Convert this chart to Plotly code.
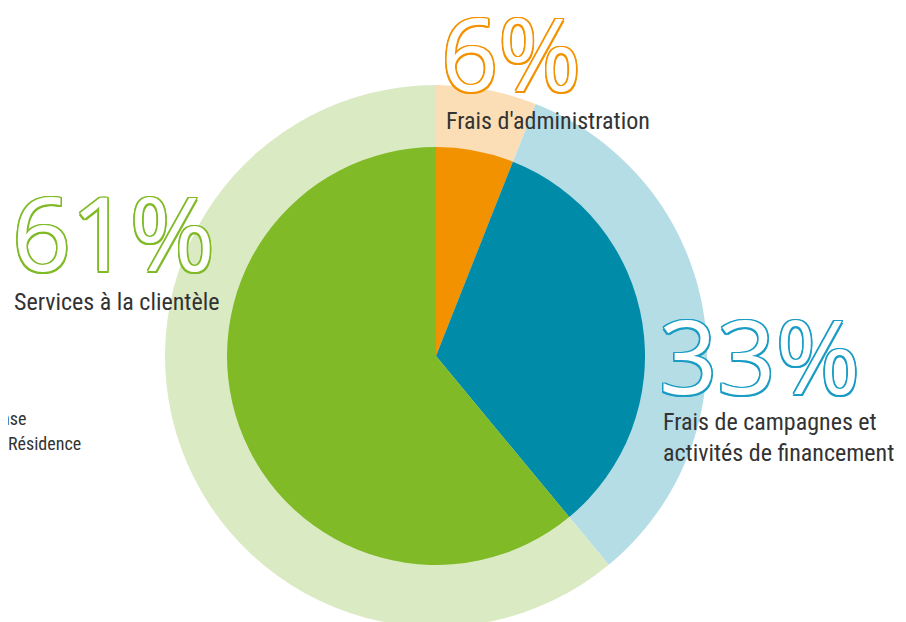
import plotly.graph_objects as go

labels = ["Frais d'administration", "Frais de campagnes et activités de financement", "Services à la clientèle"]
values = [6, 33, 61]
pct_labels = ["6%", "33%", "61%"]
inner_colors = ["#F39200", "#008BA9", "#80BA27"]
outer_colors = ["#FBDEB6", "#B4DDE5", "#DAEAC3"]
pct_colors = ["#F39200", "#1A9CC4", "#80BA27"]

W, H = 906, 622
OFF = 8  # page body margin
cx, cy = 436 - OFF, 356 - OFF
r_out, r_in = 271, 209

def dom(r):
    yb = H - cy
    return dict(x=[(cx - r) / W, (cx + r) / W], y=[(yb - r) / H, (yb + r) / H])

fig = go.Figure()
fig.add_trace(go.Pie(labels=labels, values=values, sort=False, direction="clockwise",
                     rotation=0, marker=dict(colors=outer_colors), textinfo="none",
                     domain=dom(r_out), showlegend=False, hoverinfo="skip"))
fig.add_trace(go.Pie(labels=labels, values=values, sort=False, direction="clockwise",
                     rotation=0, marker=dict(colors=inner_colors), textinfo="none",
                     domain=dom(r_in), showlegend=False, hoverinfo="label+percent"))

def outline(c, w=1.5):
    offs = [(w, 0), (-w, 0), (0, w), (0, -w), (w, w), (-w, -w), (w, -w), (-w, w)]
    return ", ".join(f"{a}px {b}px 0 {c}" for a, b in offs)

big_font = "Open Sans, Noto Sans, sans-serif"
lab_font = "Noto Sans Condensed, Roboto Condensed, Liberation Sans Narrow, DejaVu Sans Condensed, sans-serif"

def px(x): return (x - OFF) / W
def py(y): return 1 - (y - OFF) / H

big = [
    (pct_labels[0], pct_colors[0], 439, 52, 100),
    (pct_labels[2], pct_colors[2], 10, 231, 103),
    (pct_labels[1], pct_colors[1], 657, 354, 102),
]
for t, c, x, y, s in big:
    fig.add_annotation(text=t, x=px(x), y=py(y), xref="paper", yref="paper",
                       xanchor="left", yanchor="middle", showarrow=False,
                       font=dict(family=big_font, size=s, color="white", shadow=outline(c)))

labs = [
    (labels[0], 444, 121),
    (labels[2], 12, 302),
    ("Frais de campagnes et<br>activités de financement", 661, 437),
]
for t, x, y in labs:
    fig.add_annotation(text=t, x=px(x), y=py(y), xref="paper", yref="paper",
                       xanchor="left", yanchor="middle", showarrow=False, align="left",
                       font=dict(family=lab_font, size=24, color="#333333"))

fig.add_annotation(text="nse", x=px(28), y=py(418), xref="paper", yref="paper",
                   xanchor="right", yanchor="middle", showarrow=False,
                   font=dict(family=lab_font, size=18, color="#333333"))
fig.add_annotation(text="Résidence", x=px(6), y=py(443), xref="paper", yref="paper",
                   xanchor="left", yanchor="middle", showarrow=False,
                   font=dict(family=lab_font, size=18, color="#333333"))

fig.update_layout(width=W, height=H, margin=dict(l=0, r=0, t=0, b=0),
                  paper_bgcolor="white", plot_bgcolor="white")
fig.write_html("out.html")
